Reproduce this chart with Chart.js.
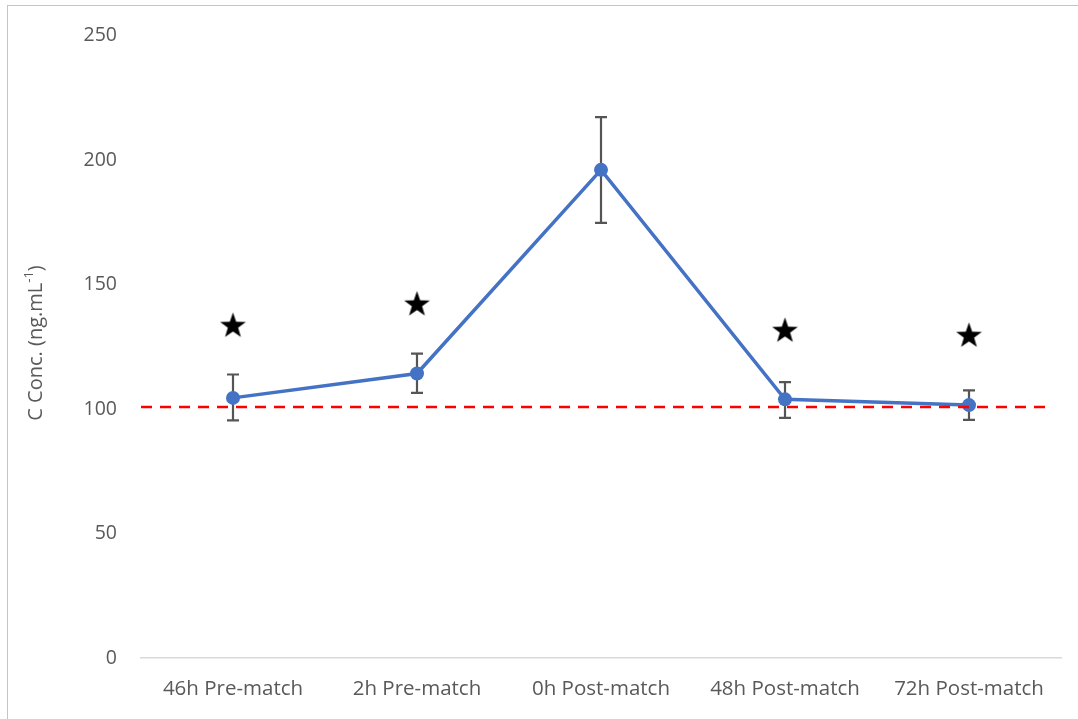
<!DOCTYPE html>
<html>
<head>
<meta charset="utf-8">
<script src="https://cdn.jsdelivr.net/npm/chart.js@4/dist/chart.umd.min.js"></script>
<style>
  html, body { margin: 0; padding: 0; background: #fff; overflow: hidden; }
  #wrap { position: relative; width: 1078px; height: 719px; }
  #wrap canvas { position: absolute; left: 0; top: 0; }
  #frame { position: absolute; left: 7px; top: 5px; width: 1100px; height: 730px;
           border-left: 1.5px solid #c4c4c4; border-top: 1.5px solid #c4c4c4; pointer-events: none; }
</style>
</head>
<body>
<div id="wrap">
  <canvas id="chart" width="1078" height="719"></canvas>
  <div id="frame"></div>
</div>
<script>
// Sampling time points
const categories = ['46h Pre-match', '2h Pre-match', '0h Post-match', '48h Post-match', '72h Post-match'];
// Mean concentration (ng.mL-1) and error bar limits
const meanConc = [104.5, 114.3, 196.1, 103.9, 101.6];
const errUpper = [113.9, 122.3, 217.3, 110.8, 107.5];
const errLower = [95.5, 106.5, 174.8, 96.5, 95.7];
// Significance markers (null where none)
const starLevel = [133.9, 142.5, null, 131.9, 129.9];
// Baseline reference level
const baselineLevel = 100.8;
// Y axis ticks
const yTicks = [0, 50, 100, 150, 200, 250];

const TEXT = '#595959';
const FONT = '"Open Sans", "Liberation Sans", sans-serif';

// Filled five-point star used as the marker image
function makeStar(size) {
  const c = document.createElement('canvas');
  c.width = size; c.height = size;
  const g = c.getContext('2d');
  const cx = size / 2, cy = size / 2 + size * 0.05;
  const outer = size / 2, inner = outer * 0.4;
  g.beginPath();
  for (let i = 0; i < 10; i++) {
    const r = i % 2 === 0 ? outer : inner;
    const a = -Math.PI / 2 + i * Math.PI / 5;
    const x = cx + r * Math.cos(a), y = cy + r * Math.sin(a);
    if (i === 0) g.moveTo(x, y); else g.lineTo(x, y);
  }
  g.closePath();
  g.fillStyle = '#000';
  g.fill();
  return c;
}
const starImg = makeStar(27);

// Vertical error bars with caps, drawn beneath the line and markers
const errorBars = {
  id: 'errorBars',
  beforeDatasetsDraw(chart) {
    const { ctx, scales: { x, y } } = chart;
    ctx.save();
    ctx.strokeStyle = '#555555';
    ctx.lineWidth = 2.2;
    const cap = 6;
    meanConc.forEach((v, i) => {
      const px = x.getPixelForValue(i);
      const top = y.getPixelForValue(errUpper[i]);
      const bot = y.getPixelForValue(errLower[i]);
      ctx.beginPath();
      ctx.moveTo(px, top); ctx.lineTo(px, bot);
      ctx.moveTo(px - cap, top); ctx.lineTo(px + cap, top);
      ctx.moveTo(px - cap, bot); ctx.lineTo(px + cap, bot);
      ctx.stroke();
    });
    ctx.restore();
  }
};

// Red dashed baseline drawn over the series
const baseline = {
  id: 'baseline',
  afterDatasetsDraw(chart) {
    const { ctx, chartArea, scales: { y } } = chart;
    const py = y.getPixelForValue(baselineLevel);
    ctx.save();
    ctx.strokeStyle = '#ff0000';
    ctx.lineWidth = 2.5;
    ctx.setLineDash([11, 8]);
    ctx.beginPath();
    ctx.moveTo(chartArea.left, py);
    ctx.lineTo(chartArea.right - 15, py);
    ctx.stroke();
    ctx.restore();
  }
};

// Rotated y-axis title with a superscript exponent
const yTitle = {
  id: 'yTitle',
  afterDraw(chart) {
    const { ctx } = chart;
    const main = 'C Conc. (ng.mL', sup = '-1', tail = ')';
    const fMain = '20px ' + FONT, fSup = '13px ' + FONT;
    ctx.save();
    ctx.translate(36, 343);
    ctx.rotate(-Math.PI / 2);
    ctx.fillStyle = TEXT;
    ctx.textBaseline = 'middle';
    ctx.textAlign = 'left';
    ctx.font = fMain; const w1 = ctx.measureText(main).width, w3 = ctx.measureText(tail).width;
    ctx.font = fSup; const w2 = ctx.measureText(sup).width;
    let xPos = -(w1 + w2 + w3) / 2;
    ctx.font = fMain; ctx.fillText(main, xPos, 0); xPos += w1;
    ctx.font = fSup; ctx.fillText(sup, xPos, -7); xPos += w2;
    ctx.font = fMain; ctx.fillText(tail, xPos, 0);
    ctx.restore();
  }
};

new Chart(document.getElementById('chart'), {
  type: 'line',
  data: {
    labels: categories,
    datasets: [
      {
        label: 'Concentration',
        data: meanConc,
        borderColor: '#4472c4',
        backgroundColor: '#4472c4',
        borderWidth: 3.5,
        pointRadius: 7,
        pointBorderWidth: 0,
        pointBackgroundColor: '#4472c4',
        tension: 0,
        order: 2
      },
      {
        label: 'Significance',
        data: starLevel,
        showLine: false,
        pointStyle: starImg,
        pointRadius: 13,
        order: 1
      }
    ]
  },
  options: {
    responsive: false,
    animation: false,
    devicePixelRatio: 1,
    layout: { padding: { top: 33, right: 17, left: 0, bottom: 0 } },
    plugins: { legend: { display: false }, tooltip: { enabled: false } },
    scales: {
      x: {
        offset: true,
        grid: { display: false, drawTicks: false },
        border: { display: true, color: '#d9d9d9', width: 1.5 },
        ticks: { color: TEXT, font: { family: FONT, size: 20.5 }, padding: 19, maxRotation: 0, autoSkip: false },
        afterFit(axis) { axis.height = 61; }
      },
      y: {
        min: 0,
        max: 250,
        grid: { display: false, drawTicks: false },
        border: { display: false },
        afterBuildTicks(axis) { axis.ticks = yTicks.map(v => ({ value: v })); },
        ticks: { color: TEXT, font: { family: FONT, size: 19.5 }, padding: 24 },
        afterFit(axis) { axis.width = 141; }
      }
    }
  },
  plugins: [errorBars, baseline, yTitle]
});
</script>
</body>
</html>
